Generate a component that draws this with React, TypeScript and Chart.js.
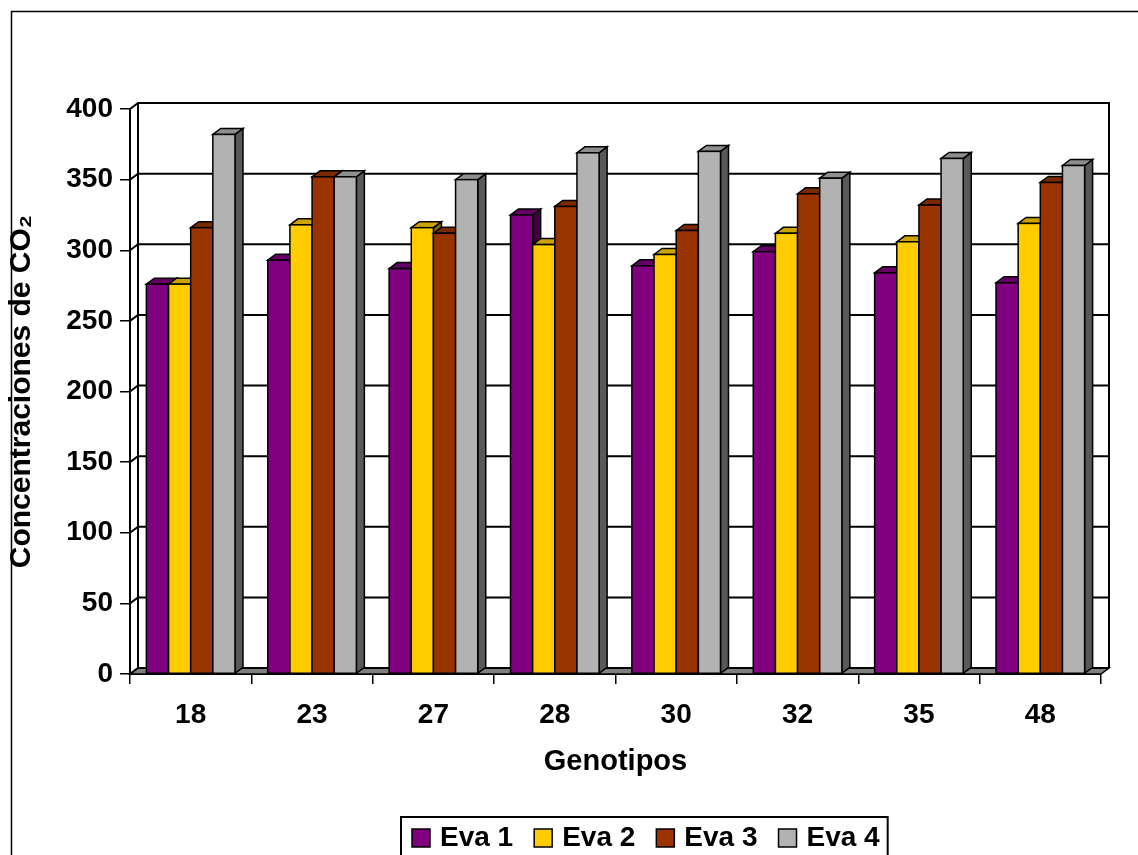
import React, { useEffect, useRef } from "react";
import { Chart, registerables } from "chart.js";

Chart.register(...registerables);

// ---- data ----
const categories = ["18", "23", "27", "28", "30", "32", "35", "48"];
const eva1 = [276, 293, 287, 325, 289, 299, 284, 277];
const eva2 = [276, 318, 316, 304, 297, 312, 306, 319];
const eva3 = [316, 352, 312, 331, 314, 340, 332, 348];
const eva4 = [382, 352, 350, 369, 370, 351, 365, 360];
const seriesLabels = ["Eva 1", "Eva 2", "Eva 3", "Eva 4"];
const yMin = 0;
const yMax = 400;
const yStep = 50;
const xTitle = "Genotipos";
const yTitle = "Concentraciones de CO\u2082";

// ---- style ----
const FONT = "'Liberation Sans', Arial, Helvetica, sans-serif";
const fronts = ["#800080", "#FFCC00", "#993300", "#B2B2B2"];
const tops = ["#660066", "#CCA300", "#7A2900", "#8E8E8E"];
const sides = ["#400040", "#806600", "#4D1A00", "#595959"];
const DX = 8;
const DY = 6;

const threeD = {
  id: "threeD",
  beforeDraw(chart: any) {
    const ctx = chart.ctx;
    ctx.save();
    ctx.fillStyle = "#ffffff";
    ctx.fillRect(0, 0, chart.width, chart.height);
    ctx.strokeStyle = "#000";
    ctx.lineWidth = 1.5;
    ctx.beginPath();
    ctx.moveTo(11.5, chart.height + 10);
    ctx.lineTo(11.5, 11.5);
    ctx.lineTo(chart.width + 10, 11.5);
    ctx.stroke();
    ctx.restore();
  },
  beforeDatasetsDraw(chart: any) {
    const { ctx, chartArea: a, scales } = chart;
    const ys = scales.y;
    ctx.save();
    ctx.strokeStyle = "#000";
    ctx.lineWidth = 1.5;
    // floor
    ctx.beginPath();
    ctx.moveTo(a.left, a.bottom);
    ctx.lineTo(a.right, a.bottom);
    ctx.lineTo(a.right + DX, a.bottom - DY);
    ctx.lineTo(a.left + DX, a.bottom - DY);
    ctx.closePath();
    ctx.fillStyle = "#808080";
    ctx.fill();
    ctx.stroke();
    // back wall outline
    ctx.lineWidth = 2;
    ctx.beginPath();
    ctx.moveTo(a.left + DX, a.bottom - DY);
    ctx.lineTo(a.left + DX, a.top - DY);
    ctx.lineTo(a.right + DX, a.top - DY);
    ctx.lineTo(a.right + DX, a.bottom - DY);
    ctx.stroke();
    // grid lines on side + back wall
    ys.ticks.forEach((t: any) => {
      const py = ys.getPixelForValue(t.value);
      ctx.beginPath();
      ctx.moveTo(a.left, py);
      ctx.lineTo(a.left + DX, py - DY);
      ctx.lineTo(a.right + DX, py - DY);
      ctx.stroke();
    });
    ctx.restore();
  },
  afterDatasetsDraw(chart: any) {
    const ctx = chart.ctx;
    const nCat = chart.data.labels.length;
    ctx.save();
    ctx.strokeStyle = "#000";
    ctx.lineWidth = 1.5;
    ctx.lineJoin = "miter";
    for (let i = 0; i < nCat; i++) {
      chart.data.datasets.forEach((ds: any, d: number) => {
        const el = chart.getDatasetMeta(d).data[i];
        const { x, y, base, width } = el.getProps(["x", "y", "base", "width"], true);
        const l = x - width / 2;
        const r = x + width / 2;
        // side
        ctx.beginPath();
        ctx.moveTo(r, y);
        ctx.lineTo(r + DX, y - DY);
        ctx.lineTo(r + DX, base - DY);
        ctx.lineTo(r, base);
        ctx.closePath();
        ctx.fillStyle = sides[d];
        ctx.fill();
        ctx.stroke();
        // top
        ctx.beginPath();
        ctx.moveTo(l, y);
        ctx.lineTo(l + DX, y - DY);
        ctx.lineTo(r + DX, y - DY);
        ctx.lineTo(r, y);
        ctx.closePath();
        ctx.fillStyle = tops[d];
        ctx.fill();
        ctx.stroke();
        // front
        ctx.fillStyle = fronts[d];
        ctx.fillRect(l, y, width, base - y);
        ctx.strokeRect(l, y, width, base - y);
      });
    }
    ctx.restore();
  },
  afterDraw(chart: any) {
    const ctx = chart.ctx;
    ctx.save();
    ctx.font = `bold 28px ${FONT}`;
    ctx.textBaseline = "middle";
    ctx.textAlign = "left";
    const boxLeft = 401;
    const boxTop = 817;
    const cy = 838;
    const sq = 18;
    const gapText = 10;
    const gapItem = 21;
    let x = 412;
    const items: any[] = [];
    chart.data.datasets.forEach((ds: any, d: number) => {
      const w = ctx.measureText(ds.label).width;
      items.push({ x, w, label: ds.label, d });
      x += sq + gapText + w + gapItem;
    });
    const last = items[items.length - 1];
    const boxRight = last.x + sq + gapText + last.w + 8;
    ctx.fillStyle = "#fff";
    ctx.fillRect(boxLeft, boxTop, boxRight - boxLeft, 60);
    ctx.strokeStyle = "#000";
    ctx.lineWidth = 2;
    ctx.strokeRect(boxLeft, boxTop, boxRight - boxLeft, 60);
    items.forEach((it) => {
      ctx.fillStyle = fronts[it.d];
      ctx.fillRect(it.x, cy - sq / 2, sq, sq);
      ctx.lineWidth = 1.5;
      ctx.strokeRect(it.x, cy - sq / 2, sq, sq);
      ctx.fillStyle = "#000";
      ctx.fillText(it.label, it.x + sq + gapText, cy);
    });
    ctx.restore();
  },
};

export default function App() {
  const ref = useRef<HTMLCanvasElement | null>(null);
  useEffect(() => {
    if (!ref.current) return;
    const series = [eva1, eva2, eva3, eva4];
    const chart = new Chart(ref.current, {
      type: "bar",
      data: {
        labels: categories,
        datasets: series.map((vals, i) => ({
          label: seriesLabels[i],
          data: vals,
          backgroundColor: fronts[i],
          borderColor: "#000",
          borderWidth: 0,
          categoryPercentage: 0.73,
          barPercentage: 1.0,
        })),
      },
      options: {
        responsive: false,
        animation: false,
        devicePixelRatio: 1,
        layout: { padding: { top: 109, right: 37, left: 0, bottom: 0 } },
        plugins: {
          legend: { display: false },
          tooltip: { enabled: false },
        },
        scales: {
          x: {
            afterFit: (s: any) => {
              s.height = 181;
            },
            grid: {
              display: true,
              drawOnChartArea: false,
              drawTicks: true,
              tickLength: 10,
              color: "#000",
              lineWidth: 1.5,
              offset: true,
            },
            border: { display: true, color: "#000", width: 2 },
            ticks: {
              color: "#000",
              padding: 14,
              font: { family: FONT, size: 28, weight: "bold" },
            },
            title: {
              display: true,
              text: xTitle,
              color: "#000",
              font: { family: FONT, size: 29, weight: "bold" },
              padding: { top: 0, bottom: 76 },
            },
          },
          y: {
            min: yMin,
            max: yMax,
            afterFit: (s: any) => {
              s.width = 130;
            },
            grid: {
              display: true,
              drawOnChartArea: false,
              drawTicks: true,
              tickLength: 10,
              color: "#000",
              lineWidth: 1.5,
            },
            border: { display: true, color: "#000", width: 2 },
            ticks: {
              stepSize: yStep,
              color: "#000",
              padding: 7,
              font: { family: FONT, size: 28, weight: "bold" },
            },
            title: {
              display: true,
              text: yTitle,
              color: "#000",
              font: { family: FONT, size: 30, weight: "bold" },
              padding: { top: 4, bottom: 0 },
            },
          },
        },
      },
      plugins: [threeD],
    } as any);
    return () => chart.destroy();
  }, []);
  return (
    <div style={{ position: "fixed", left: 0, top: 0, width: 1138, height: 855, background: "#fff" }}>
      <canvas ref={ref} width={1138} height={855} style={{ display: "block" }} />
    </div>
  );
}
